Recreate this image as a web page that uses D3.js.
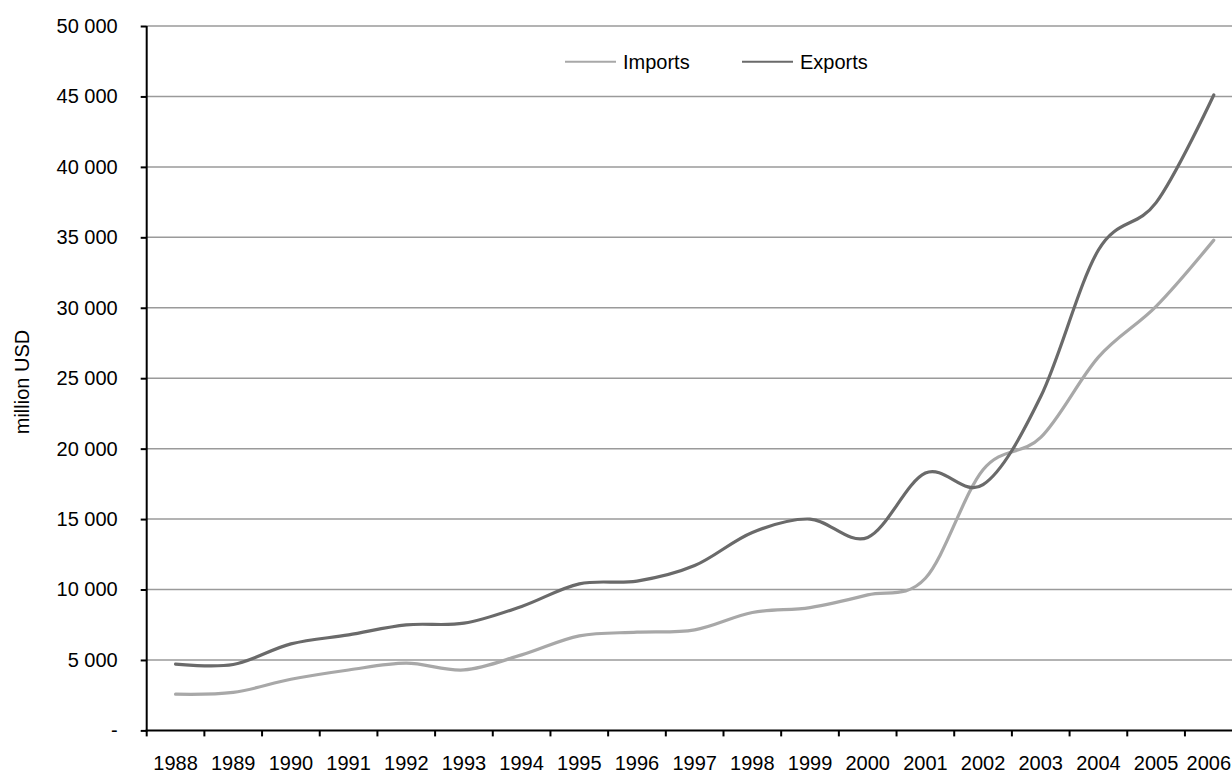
<!DOCTYPE html>
<html>
<head>
<meta charset="utf-8">
<script src="https://cdn.jsdelivr.net/npm/d3@7"></script>
<style>
  html, body { margin: 0; padding: 0; background: #fff; }
  svg { display: block; }
  text { font-family: "Liberation Sans", Arial, sans-serif; fill: #000; }
</style>
</head>
<body>
<svg id="chart" width="1232" height="774"></svg>
<script>
const years = ["1988","1989","1990","1991","1992","1993","1994","1995","1996","1997","1998","1999","2000","2001","2002","2003","2004","2005","2006"];
const imports = [2570, 2700, 3630, 4290, 4770, 4290, 5360, 6710, 6970, 7140, 8370, 8720, 9620, 10800, 18500, 20800, 26500, 30100, 34800];
const exports = [4700, 4680, 6140, 6780, 7490, 7610, 8800, 10400, 10600, 11700, 14050, 15000, 13700, 18270, 17440, 23700, 34100, 37460, 45100];
const yTicks = [0, 5000, 10000, 15000, 20000, 25000, 30000, 35000, 40000, 45000, 50000];
const seriesNames = ["Imports", "Exports"];
const seriesColors = ["#a8a8a8", "#6a6a6a"];

(function () {
const svg = d3.select("#chart");
const mLeft = 146.7, step = 57.68, mBottom = 730.4, mTop = 26, W = 1232;

const x = d3.scaleBand().domain(years).range([mLeft, mLeft + step * years.length]).padding(0);
const y = d3.scaleLinear().domain([0, 50000]).range([mBottom, mTop]);

const loc = d3.formatLocale({decimal: ",", thousands: " ", grouping: [3], currency: ["", ""]});
const fmt = v => v === 0 ? "-" : loc.format(",")(v);

// gridlines
svg.append("g").selectAll("line").data(yTicks.filter(d => d > 0)).join("line")
  .attr("x1", mLeft).attr("x2", W)
  .attr("y1", d => y(d)).attr("y2", d => y(d))
  .attr("stroke", "#9a9a9a").attr("stroke-width", 1.5);

// y axis
const yAxis = d3.axisLeft(y).tickValues(yTicks).tickFormat(fmt).tickSize(6).tickPadding(23);
const gy = svg.append("g").attr("transform", `translate(${mLeft},0)`).call(yAxis);
gy.select(".domain").remove();
gy.selectAll(".tick line").attr("stroke", "#000").attr("stroke-width", 2);
gy.selectAll(".tick text").attr("font-size", 20).attr("font-family", "Liberation Sans, Arial, sans-serif").attr("fill", "#000");
svg.append("line").attr("x1", mLeft).attr("x2", mLeft).attr("y1", mTop).attr("y2", mBottom + 1)
  .attr("stroke", "#000").attr("stroke-width", 2);

// x axis
const xAxis = d3.axisBottom(x).tickSize(0).tickPadding(25);
const gx = svg.append("g").attr("transform", `translate(0,${mBottom})`).call(xAxis);
gx.select(".domain").remove();
gx.selectAll(".tick text").attr("font-size", 20).attr("font-family", "Liberation Sans, Arial, sans-serif").attr("fill", "#000");
// keep the last label inside the window
gx.selectAll(".tick text").each(function () {
  const b = this.getBBox();
  const ctm = this.getCTM();
  const right = ctm.e + b.x + b.width;
  if (right > W - 1) d3.select(this).attr("dx", (W - 1 - right) + "px");
});
svg.append("line").attr("x1", mLeft - 1).attr("x2", W).attr("y1", mBottom).attr("y2", mBottom)
  .attr("stroke", "#000").attr("stroke-width", 2);
svg.append("g").selectAll("line").data(years).join("line")
  .attr("x1", d => x(d)).attr("x2", d => x(d))
  .attr("y1", mBottom).attr("y2", mBottom + 6)
  .attr("stroke", "#000").attr("stroke-width", 2);

// y title
svg.append("text").attr("transform", "translate(29,382) rotate(-90)")
  .attr("text-anchor", "middle").attr("font-size", 20).text("million USD");

// lines
const line = d3.line()
  .x((d, i) => x(years[i]) + x.bandwidth() / 2)
  .y(d => y(d))
  .curve(d3.curveCardinal.tension(0));
[imports, exports].forEach((vals, k) => {
  svg.append("path").datum(vals).attr("d", line)
    .attr("fill", "none").attr("stroke", seriesColors[k]).attr("stroke-width", 3.2)
    .attr("stroke-linejoin", "round").attr("stroke-linecap", "round");
});

// legend
const legendX = [565, 742];
seriesNames.forEach((n, k) => {
  const g = svg.append("g").attr("transform", `translate(${legendX[k]},61.7)`);
  g.append("line").attr("x1", 0).attr("x2", 51).attr("stroke", seriesColors[k]).attr("stroke-width", 2);
  g.append("text").attr("x", 58).attr("dy", "0.35em").attr("font-size", 20).text(n);
});
})();
</script>
</body>
</html>
